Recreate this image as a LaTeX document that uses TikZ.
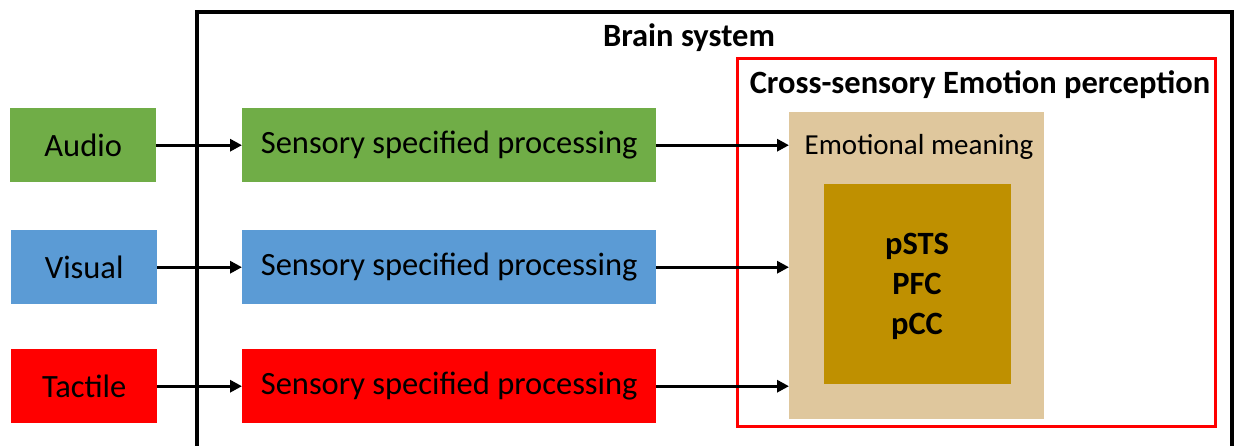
\documentclass[tikz,border=0pt]{standalone}
\usepackage{fontspec}
\setmainfont{Carlito}
\usetikzlibrary{arrows.meta}
\definecolor{cgreen}{HTML}{70AD47}
\definecolor{cblue}{HTML}{5B9BD5}
\definecolor{cred}{HTML}{FF0000}
\definecolor{ctan}{HTML}{DFC79D}
\definecolor{cgold}{HTML}{BF9000}
\begin{document}
\begin{tikzpicture}[x=1pt,y=-1pt,
  box/.style={draw=none, inner sep=0pt, anchor=north west, font=\fontsize{32.5}{38}\selectfont},
  inbox/.style={box, minimum width=146pt, minimum height=74pt},
  procbox/.style={box, minimum width=414pt, minimum height=74pt},
  conn/.style={line width=3.2pt, -{Triangle[length=12pt,width=12pt]}},
  title/.style={font=\fontsize{32.5}{38}\selectfont\bfseries, inner sep=0pt}
]
\useasboundingbox (0,0) rectangle (1235,445);
% brain system frame (open at bottom)
\draw[line width=3.2pt] (197,446) -- (197,12) -- (1232,12) -- (1232,446);
\node[title] (brain) at (689,38) {Brain system};
% cross-sensory frame
\draw[cred, line width=3pt] (737,58) rectangle (1215,426);
\node[title] (cross) at (980,85) {Cross-sensory Emotion perception};
% emotional meaning
\node[box, fill=ctan, minimum width=255pt, minimum height=307pt] (tan) at (789,112) {};
\node[inner sep=0pt, font=\fontsize{29}{34}\selectfont] (emo) at (919,147) {Emotional meaning};
\node[box, fill=cgold, minimum width=187pt, minimum height=200pt] (gold) at (824,184) {};
\node[inner sep=0pt, align=center, font=\fontsize{32.5}{40}\selectfont\bfseries] (areas) at (917,286) {pSTS\\PFC\\pCC};
% inputs
\node[inbox, fill=cgreen] (audio) at (10,108) {Audio};
\node[inbox, fill=cblue] (visual) at (11,230) {Visual};
\node[inbox, fill=cred] (tactile) at (11,349) {Tactile};
% processing
\node[procbox, fill=cgreen] (p1) at (242,108) {Sensory specified processing};
\node[procbox, fill=cblue] (p2) at (242,230) {Sensory specified processing};
\node[procbox, fill=cred] (p3) at (242,349) {Sensory specified processing};
% connectors
\draw[conn] (audio.east) -- (p1.west);
\draw[conn] (visual.east) -- (p2.west);
\draw[conn] (tactile.east) -- (p3.west);
\draw[conn] (p1.east) -- (p1.east -| tan.west);
\draw[conn] (p2.east) -- (p2.east -| tan.west);
\draw[conn] (p3.east) -- (p3.east -| tan.west);
\end{tikzpicture}
\end{document}
